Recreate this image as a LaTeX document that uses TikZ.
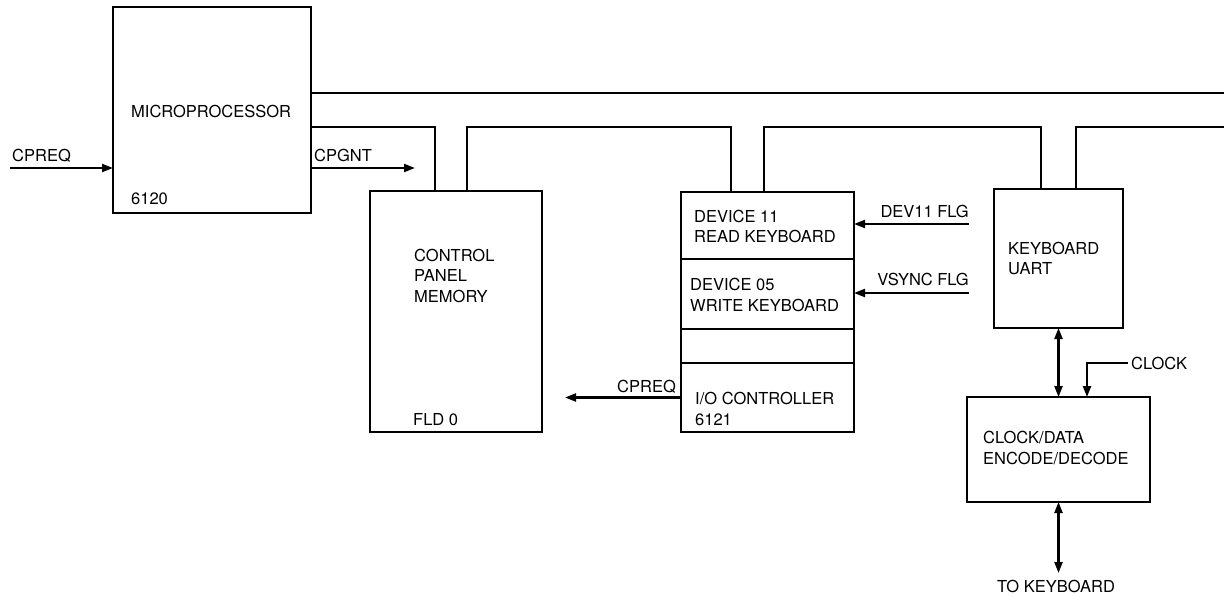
\documentclass[tikz,border=0pt]{standalone}
\usepackage{fontspec}
\setmainfont{TeX Gyre Heros}
\usetikzlibrary{arrows.meta, positioning, calc}

\begin{document}
\begin{tikzpicture}[x=1pt, y=-1pt,
    font=\fontsize{16.5}{20.5}\selectfont,
    blk/.style 2 args={draw, line width=2.8pt, inner sep=0pt, outer sep=0pt,
        minimum width=#1, minimum height=#2},
    txt/.style={anchor=base west, inner sep=0pt, align=left},
    bus/.style={line width=2.3pt},
    sig/.style={line width=2.2pt, -{Triangle[length=11pt,width=8pt]}},
    dsig/.style={line width=2.2pt, {Triangle[length=11pt,width=8pt]}-{Triangle[length=11pt,width=8pt]}}]
    \useasboundingbox (0,0) rectangle (1224,596);

    % Boxes
    \node[blk={198pt}{206pt}] (mpu) at (212,110) {};
    \node[blk={172pt}{241pt}] (cpm) at (456,311.5) {};
    \node[blk={173pt}{67pt}] (dev11) at (767.5,225.5) {};
    \node[blk={173pt}{70pt}, below=0pt of dev11] (dev05) {};
    \node[blk={173pt}{34pt}, below=0pt of dev05] (spare) {};
    \node[blk={173pt}{69pt}, below=0pt of spare] (ioc) {};
    \node[blk={129pt}{139pt}] (uart) at (1058.5,258.5) {};
    \node[blk={183pt}{105pt}] (cdx) at (1058.5,449.5) {};

    % Box texts (base = last line)
    \node[txt] (mpuname) at (131,118) {MICROPROCESSOR};
    \node[txt] (mpunum) at (131,205) {6120};
    \node[txt] (cpmname) at (414,302) {CONTROL\\PANEL\\MEMORY};
    \node[txt] (cpmfld) at (413,425) {FLD 0};
    \node[txt] (dev11name) at (694,243) {DEVICE 11\\READ KEYBOARD};
    \node[txt] (dev05name) at (690,311) {DEVICE 05\\WRITE KEYBOARD};
    \node[txt] (iocname) at (695,425) {I/O CONTROLLER\\6121};
    \node[txt] (uartname) at (1008,275) {KEYBOARD\\UART};
    \node[txt] (cdxname) at (983,464) {CLOCK/DATA\\ENCODE/DECODE};

    % Bus
    \coordinate (hiR) at (1224,93);
    \coordinate (loR) at (1224,127);
    \draw[bus] (mpu.east |- hiR) -- (hiR);
    \draw[bus] (mpu.east |- loR) -| ([xshift=-21]cpm.north);
    \draw[bus] ([xshift=11]cpm.north) -- ++(0,-64) -| ([xshift=-36.5]dev11.north);
    \draw[bus] ([xshift=-3.5]dev11.north) -- ++(0,-65) -| ([xshift=-17.5]uart.north);
    \draw[bus] ([xshift=17.5]uart.north) |- (loR);

    % Signals
    \coordinate (cpreqsrc) at (10,168);
    \draw[sig] (cpreqsrc) -- (cpreqsrc -| mpu.west);
    \node[txt] (cpreqlbl) at (12,162) {CPREQ};

    \coordinate (cpgntend) at (415,168);
    \draw[sig] (mpu.east |- cpgntend) -- (cpgntend);
    \node[txt] (cpgntlbl) at (314,162) {CPGNT};

    \coordinate (cpreqend) at (565,397.5);
    \draw[sig] (ioc.west) -- (cpreqend);
    \node[txt] (cpreqoutlbl) at (617,392) {CPREQ};

    \coordinate (dev11src) at (969,224);
    \draw[sig] (dev11src) -- (dev11src -| dev11.east);
    \node[txt, anchor=base east] (dev11lbl) at (969,218) {DEV11 FLG};

    \coordinate (vsyncsrc) at (969,293);
    \draw[sig] (vsyncsrc) -- (vsyncsrc -| dev05.east);
    \node[txt, anchor=base east] (vsynclbl) at (969,286) {VSYNC FLG};

    \draw[dsig] (uart.south) -- (cdx.north);

    \coordinate (clksrc) at (1128,363);
    \draw[sig] (clksrc) -| ([xshift=28.5]cdx.north);
    \node[anchor=west, inner sep=0pt] (clklbl) at (1131,363) {CLOCK};

    \coordinate (kbdend) at (1058.5,573);
    \draw[dsig] (cdx.south) -- (kbdend);
    \node[txt, anchor=base] (kbdlbl) at (1056,592) {TO KEYBOARD};
\end{tikzpicture}
\end{document}
